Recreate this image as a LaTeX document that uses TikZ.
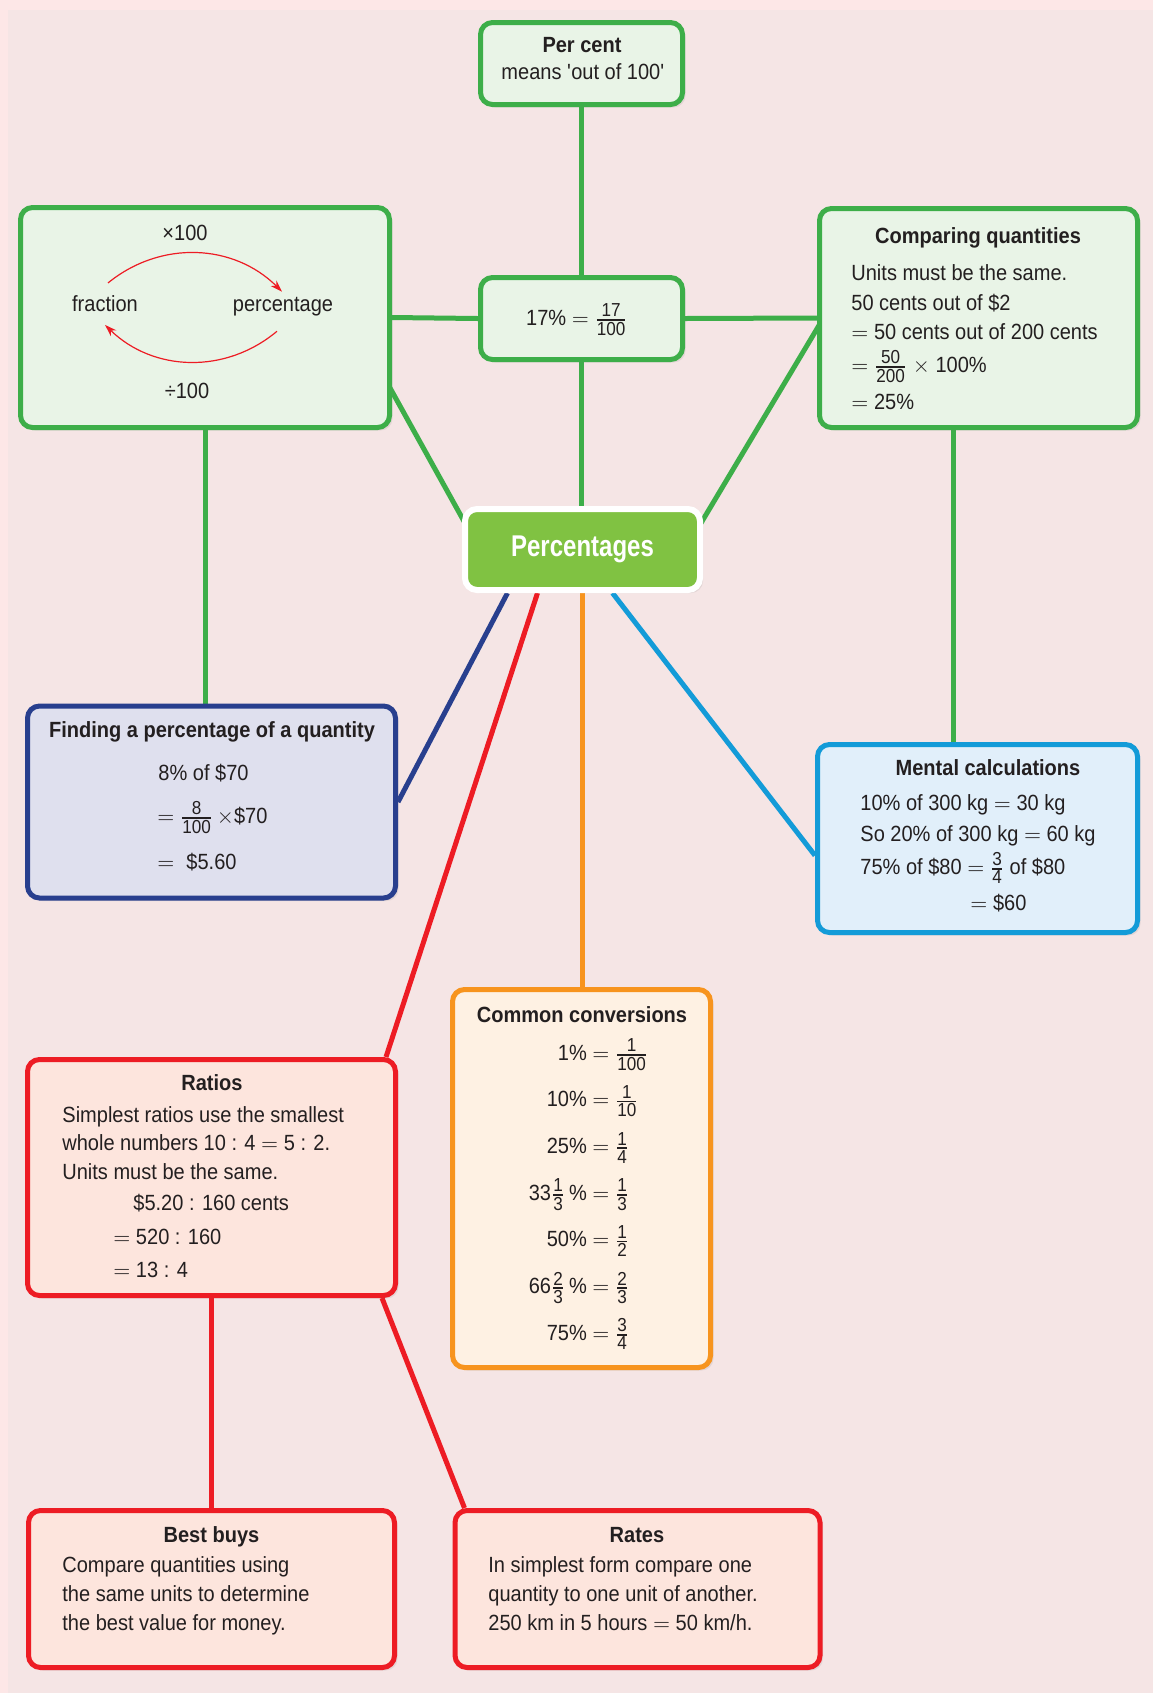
\documentclass[tikz,border=0pt]{standalone}
\usepackage{amsmath}
\usepackage{fontspec}
\setmainfont{Liberation Sans}[FakeStretch=0.91]
\newfontfamily\headfont{Liberation Sans}[FakeStretch=0.8]
\usetikzlibrary{arrows.meta,shadows,backgrounds}

\definecolor{ink}{HTML}{231F20}
\definecolor{bgout}{HTML}{FDE7E7}
\definecolor{bgin}{HTML}{F5E5E5}
\definecolor{gline}{HTML}{3DAE49}
\definecolor{gfill}{HTML}{E9F4E7}
\definecolor{pfill}{HTML}{80C242}
\definecolor{nline}{HTML}{283F8E}
\definecolor{nfill}{HTML}{DFE0EE}
\definecolor{bline}{HTML}{139BD8}
\definecolor{bfill}{HTML}{E1EFFA}
\definecolor{oline}{HTML}{F7941E}
\definecolor{ofill}{HTML}{FEF1E3}
\definecolor{rline}{HTML}{ED1C24}
\definecolor{rfill}{HTML}{FDE5DD}

\newcommand{\fr}[2]{\ensuremath{\genfrac{}{}{0.7pt}{}{\hbox{\fontsize{9.4}{10}\selectfont#1}}{\hbox{\fontsize{9.4}{10}\selectfont#2}}}}

\tikzset{
  panel/.style={rounded corners=6pt, line width=2.5pt, inner sep=0pt,
    drop shadow={shadow xshift=1.5pt, shadow yshift=-1.5pt, opacity=0.15}},
  greenbox/.style={panel, draw=gline, fill=gfill},
  navybox/.style={panel, draw=nline, fill=nfill},
  bluebox/.style={panel, draw=bline, fill=bfill},
  orangebox/.style={panel, draw=oline, fill=ofill},
  redbox/.style={panel, draw=rline, fill=rfill},
  mainbox/.style={panel, line width=3pt, draw=white, fill=pfill},
  txt/.style={font=\fontsize{11}{13}\selectfont, text=ink, inner sep=0pt, yshift=-1pt},
  ttl/.style={txt, font=\fontsize{11}{13}\selectfont\bfseries},
  link/.style={line width=2.5pt},
  convarrow/.style={draw=rline, line width=0.6pt, -{Stealth[length=6pt,width=4pt]}},
}

\begin{document}
\begin{tikzpicture}[x=0.5pt, y=-0.5pt]
\useasboundingbox (0,0) rectangle (1153,1693);

% boxes
\node[greenbox, minimum width=101pt, minimum height=41pt] (percent) at (581.5,63.5) {};
\node[greenbox, minimum width=101pt, minimum height=41pt] (seventeen) at (581.5,318.5) {};
\node[greenbox, minimum width=184.5pt, minimum height=110pt] (frac) at (205,317.5) {};
\node[greenbox, minimum width=159pt, minimum height=109.5pt] (compare) at (978.5,318) {};
\node[mainbox, minimum width=117.5pt, minimum height=40.5pt, text=white,
  font=\headfont\fontsize{15}{15}\selectfont\bfseries] (pct) at (582.5,549.5) {Percentages};
\node[navybox, minimum width=184pt, minimum height=96pt] (finding) at (211.5,802) {};
\node[bluebox, minimum width=160pt, minimum height=94pt] (mental) at (977.5,838.5) {};
\node[orangebox, minimum width=129pt, minimum height=189pt] (common) at (581.5,1178.5) {};
\node[redbox, minimum width=184pt, minimum height=118pt] (ratios) at (211.5,1177.5) {};
\node[redbox, minimum width=183pt, minimum height=78.5pt] (best) at (211.5,1589) {};
\node[redbox, minimum width=182.5pt, minimum height=78.5pt] (rates) at (637.5,1589) {};

% per cent
\node[ttl, anchor=mid] (percentT) at (582,45) {Per cent};
\node[txt, anchor=mid] (percentL) at (583,72) {means \textquotesingle out of 100\textquotesingle};
\node[txt, anchor=mid] (seventeenL) at (577,318) {17\% $=$ \fr{17}{100}};

% fraction <-> percentage
\node[txt, anchor=mid] (times) at (185,233) {×100};
\node[txt, anchor=mid] (fw) at (105,304) {fraction};
\node[txt, anchor=mid] (pw) at (283,304) {percentage};
\node[txt, anchor=mid] (divide) at (187,391) {÷100};
\draw[convarrow] ([shift={(3,-12)}]fw.north) to[bend left=42] ([shift={(-1,-5)}]pw.north);
\draw[convarrow] ([shift={(-6,15)}]pw.south) to[bend left=42] ([shift={(0,13)}]fw.south);

% comparing quantities
\node[ttl, anchor=mid] (compareT) at (978,236) {Comparing quantities};
\node[txt, anchor=mid west] (compare1) at (851,273) {Units must be the same.};
\node[txt, anchor=mid west] (compare2) at (851,303) {50 cents out of \$2};
\node[txt, anchor=mid west] (compare3) at (851,332) {$=$ 50 cents out of 200 cents};
\node[txt, anchor=mid west] (compare4) at (851,365) {$=$ \fr{50}{200} $\times$ 100\%};
\node[txt, anchor=mid west] (compare5) at (851,402) {$=$ 25\%};

% finding a percentage
\node[ttl, anchor=mid] (findingT) at (212,730) {Finding a percentage of a quantity};
\node[txt, anchor=mid west] (finding1) at (158,773) {8\% of \$70};
\node[txt, anchor=mid west] (finding2) at (157,816) {$=$ \fr{8}{100}$\,\times$\$70};
\node[txt, anchor=mid west] (finding3) at (157,862) {$=$\hspace{6pt}\$5.60};

% mental calculations
\node[ttl, anchor=mid] (mentalT) at (988,768) {Mental calculations};
\node[txt, anchor=mid west] (mental1) at (860,803) {10\% of 300 kg $=$ 30 kg};
\node[txt, anchor=mid west] (mental2) at (860,834) {So 20\% of 300 kg $=$ 60 kg};
\node[txt, anchor=mid west] (mental3) at (860,867) {75\% of \$80 $=$ \fr{3}{4} of \$80};
\node[txt, anchor=mid west] (mental4) at (970,903) {$=$ \$60};

% common conversions
\node[ttl, anchor=mid] (commonT) at (582,1015) {Common conversions};
\foreach \lft/\rgt [count=\i from 0] in {{1\%}/{\fr{1}{100}}, {10\%}/{\fr{1}{10}},
    {25\%}/{\fr{1}{4}}, {33\fr{1}{3}\,\%}/{\fr{1}{3}}, {50\%}/{\fr{1}{2}},
    {66\fr{2}{3}\,\%}/{\fr{2}{3}}, {75\%}/{\fr{3}{4}}}
  \node[txt, anchor=mid west] (conv\i) at (592,{1053+46.67*\i}) {\llap{\lft\ }$=$ \rgt};

% ratios
\node[ttl, anchor=mid] (ratiosT) at (212,1083) {Ratios};
\node[txt, anchor=mid west] (ratios1) at (62,1115) {Simplest ratios use the smallest};
\node[txt, anchor=mid west] (ratios2) at (62,1143) {whole numbers 10 : 4 $=$ 5 : 2.};
\node[txt, anchor=mid west] (ratios3) at (62,1172) {Units must be the same.};
\node[txt, anchor=mid west] (ratios4) at (133,1203) {\$5.20 : 160 cents};
\node[txt, anchor=mid west] (ratios5) at (113,1237) {$=$ 520 : 160};
\node[txt, anchor=mid west] (ratios6) at (113,1270) {$=$ 13 : 4};

% best buys
\node[ttl, anchor=mid] (bestT) at (211.5,1535) {Best buys};
\node[txt, anchor=mid west] (best1) at (62,1565) {Compare quantities using};
\node[txt, anchor=mid west] (best2) at (62,1594) {the same units to determine};
\node[txt, anchor=mid west] (best3) at (62,1623) {the best value for money.};

% rates
\node[ttl, anchor=mid] (ratesT) at (637,1535) {Rates};
\node[txt, anchor=mid west] (rates1) at (488,1565) {In simplest form compare one};
\node[txt, anchor=mid west] (rates2) at (488,1594) {quantity to one unit of another.};
\node[txt, anchor=mid west] (rates3) at (488,1623) {250 km in 5 hours $=$ 50 km/h.};

% background and links
\begin{scope}[on background layer]
\fill[bgout] (0,0) rectangle (1153,1693);
\fill[bgin] (8,10) rectangle (1153,1693);
\draw[link, gline] (percent.south) -- (seventeen.north);
\draw[link, gline] (seventeen.south) -- (seventeen.south |- pct.north);
\draw[link, gline] (frac.east) -- (seventeen.west);
\draw[link, gline] (seventeen.east) -- (compare.west);
\draw[link, gline] ([shift={(-10,56)}]frac.east) -- ([shift={(16,-3)}]pct.west);
\draw[link, gline] ([shift={(10,-6)}]compare.west) -- ([shift={(-16,-3)}]pct.east);
\draw[link, gline] (frac.south) -- (frac.south |- finding.north);
\draw[link, gline] ([shift={(-25,0)}]compare.south) -- ([shift={(-24,0)}]mental.north);
\draw[link, nline] ([shift={(-75,0)}]pct.south) -- (finding.east);
\draw[link, rline] ([shift={(-45,0)}]pct.south) -- ([shift={(-12,0)}]ratios.north east);
\draw[link, oline] (pct.south) -- (pct.south |- common.north);
\draw[link, bline] ([shift={(30,0)}]pct.south) -- ([shift={(0,17)}]mental.west);
\draw[link, rline] (ratios.south) -- (best.north);
\draw[link, rline] ([shift={(-16,0)}]ratios.south east) -- ([shift={(12,0)}]rates.north west);
\end{scope}
\end{tikzpicture}
\end{document}
